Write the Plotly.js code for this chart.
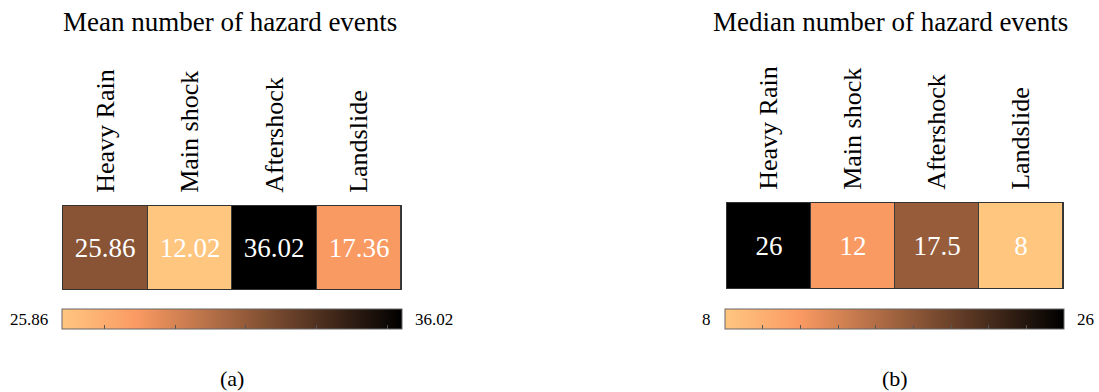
<!DOCTYPE html>
<html>
<head>
<meta charset="utf-8">
<script src="https://cdn.plot.ly/plotly-3.0.1.min.js"></script>
<style>
  html, body { margin: 0; padding: 0; background: #fff; }
  #chart { width: 1099px; height: 392px; }
</style>
</head>
<body>
<div id="chart"></div>
<script>
// Hazard types shown as columns in both panels
const hazards = ['Heavy Rain', 'Main shock', 'Aftershock', 'Landslide'];

// Mean and median number of hazard events per type
const meanEvents = [25.86, 12.02, 36.02, 17.36];
const medianEvents = [26, 12, 17.5, 8];

// End labels printed beside each colour bar
const meanBarLabels = ['25.86', '36.02'];
const medianBarLabels = ['8', '26'];

// Panel captions and titles
const panelTitles = ['Mean number of hazard events', 'Median number of hazard events'];
const panelTags = ['(a)', '(b)'];

const W = 1099, H = 392;
const serif = 'Liberation Serif';

// light peach -> orange -> black
const scale = [[0, '#FFC680'], [0.22, '#FA9A62'], [1, '#000000']];

const px = v => v / W;          // horizontal pixel -> paper
const py = v => 1 - v / H;      // vertical pixel -> paper

const panels = [
  { values: meanEvents, labels: meanBarLabels, x0: 63, x1: 401, y0: 206, y1: 289,
    bx0: 62, bx1: 402, dtick: 5, tx: 230 },
  { values: medianEvents, labels: medianBarLabels, x0: 727, x1: 1063, y0: 203, y1: 288,
    bx0: 725, bx1: 1064, dtick: 2, tx: 890 }
];

const data = [];
const layout = {
  width: W, height: H,
  margin: { l: 0, r: 0, t: 0, b: 0 },
  paper_bgcolor: '#ffffff',
  plot_bgcolor: '#3a3a3a',
  font: { family: serif, color: '#000' },
  showlegend: false,
  annotations: []
};

panels.forEach((p, i) => {
  const n = i === 0 ? '' : String(i + 1);
  const xa = 'x' + n, ya = 'y' + n;
  const zmin = Math.min(...p.values), zmax = Math.max(...p.values);
  const barY = 309, barT = 20;

  data.push({
    type: 'heatmap',
    x: hazards.map((_, k) => k),
    y: [0],
    z: [p.values],
    zmin: zmin, zmax: zmax,
    colorscale: scale,
    xgap: 1,
    xaxis: xa, yaxis: ya,
    hoverinfo: 'skip',
    texttemplate: '%{z}',
    textfont: { family: serif, size: 27, color: '#ffffff' },
    colorbar: {
      orientation: 'h',
      x: px((p.bx0 + p.bx1) / 2), xanchor: 'center',
      y: py(barY), yanchor: 'top',
      lenmode: 'pixels', len: p.bx1 - p.bx0,
      thickness: barT,
      xpad: 0, ypad: 0,
      outlinewidth: 1, outlinecolor: '#666',
      ticks: 'inside', ticklen: 4, tickcolor: '#555', tickwidth: 1,
      tick0: 0, dtick: p.dtick,
      showticklabels: false
    }
  });

  layout['xaxis' + n] = {
    domain: [px(p.x0), px(p.x1)],
    anchor: ya,
    type: 'linear',
    range: [-0.5, hazards.length - 0.5],
    side: 'top',
    tickvals: hazards.map((_, k) => k),
    ticktext: hazards,
    tickangle: -90,
    ticks: '',
    ticklabelstandoff: 7,
    tickfont: { family: serif, size: 26, color: '#000' },
    showgrid: false, zeroline: false,
    showline: true, mirror: true, linecolor: '#333', linewidth: 1,
    fixedrange: true
  };
  layout['yaxis' + n] = {
    domain: [py(p.y1), py(p.y0)],
    anchor: xa,
    range: [-0.5, 0.5],
    showticklabels: false, ticks: '',
    showgrid: false, zeroline: false,
    showline: true, mirror: true, linecolor: '#333', linewidth: 1,
    fixedrange: true
  };

  const cx = px((p.x0 + p.x1) / 2);
  layout.annotations.push(
    { text: panelTitles[i], xref: 'paper', yref: 'paper', x: px(p.tx), y: py(22),
      xanchor: 'center', yanchor: 'middle', showarrow: false,
      font: { family: serif, size: 27, color: '#000' } },
    { text: panelTags[i], xref: 'paper', yref: 'paper', x: cx, y: py(378),
      xanchor: 'center', yanchor: 'middle', showarrow: false,
      font: { family: serif, size: 22, color: '#000' } },
    { text: p.labels[0], xref: 'paper', yref: 'paper', x: px(p.bx0 - 12), y: py(barY + barT / 2),
      xanchor: 'right', yanchor: 'middle', showarrow: false,
      font: { family: serif, size: 17, color: '#000' } },
    { text: p.labels[1], xref: 'paper', yref: 'paper', x: px(p.bx1 + 11), y: py(barY + barT / 2),
      xanchor: 'left', yanchor: 'middle', showarrow: false,
      font: { family: serif, size: 17, color: '#000' } }
  );
});

Plotly.newPlot('chart', data, layout, { displayModeBar: false, staticPlot: true });
</script>
</body>
</html>
